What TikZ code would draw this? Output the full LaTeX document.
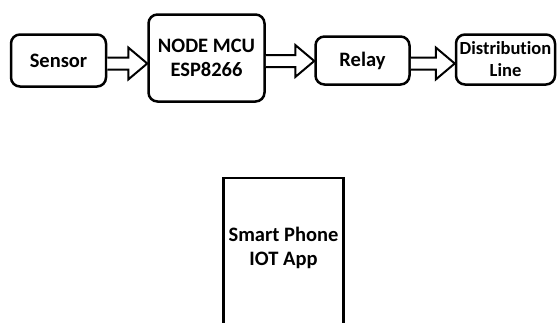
\documentclass[tikz,border=0pt]{standalone}
\usepackage{fontspec}
\setmainfont{Carlito}[Ligatures=NoCommon]
\usetikzlibrary{calc}

\tikzset{
  block/.style={draw, line width=2.5pt, rounded corners=9pt, inner sep=0pt,
    align=center, font=\fontsize{20.5}{24}\selectfont\bfseries},
  phonebox/.style={draw, line width=2.5pt, inner sep=0pt},
  blockarrow/.style={draw, line width=2pt, line join=miter, fill=white}
}

\newcommand{\hollowarrow}[2]{%
  \coordinate (s) at ($(#1.east)+(0,3)$);
  \coordinate (t) at (#2.west |- s);
  \draw[blockarrow] ($(s)+(0,-6)$) -- ($(t)+(-19,-6)$) -- ($(t)+(-19,-16)$)
    -- (t) -- ($(t)+(-19,16)$) -- ($(t)+(-19,6)$) -- ($(s)+(0,6)$);
}

\begin{document}
\begin{tikzpicture}[x=1pt,y=-1pt]
\useasboundingbox (0,0) rectangle (557,322);
% top row
\node[block, minimum width=95pt, minimum height=52pt] (sensor) at (58.5,60.5) {Sensor};
\node[block, minimum width=116pt, minimum height=87pt] (mcu) at (206.5,58) {NODE MCU\\ESP8266};
\node[block, minimum width=94pt, minimum height=48pt] (relay) at (362.5,60.5) {Relay};
\node[block, minimum width=99pt, minimum height=50pt,
  font=\fontsize{18.5}{22}\selectfont\bfseries] (dist) at (505.5,59.5) {Distribution\\Line};
% connectors
\hollowarrow{sensor}{mcu}
\hollowarrow{mcu}{relay}
\hollowarrow{relay}{dist}
% phone
\node[phonebox, anchor=north, minimum width=120pt, minimum height=170pt] (phone) at (283.5,176.5) {};
\node[block, draw=none, anchor=north] (phonetext) at ($(phone.north)+(0,49)$) {Smart Phone\\IOT App};
\end{tikzpicture}
\end{document}
